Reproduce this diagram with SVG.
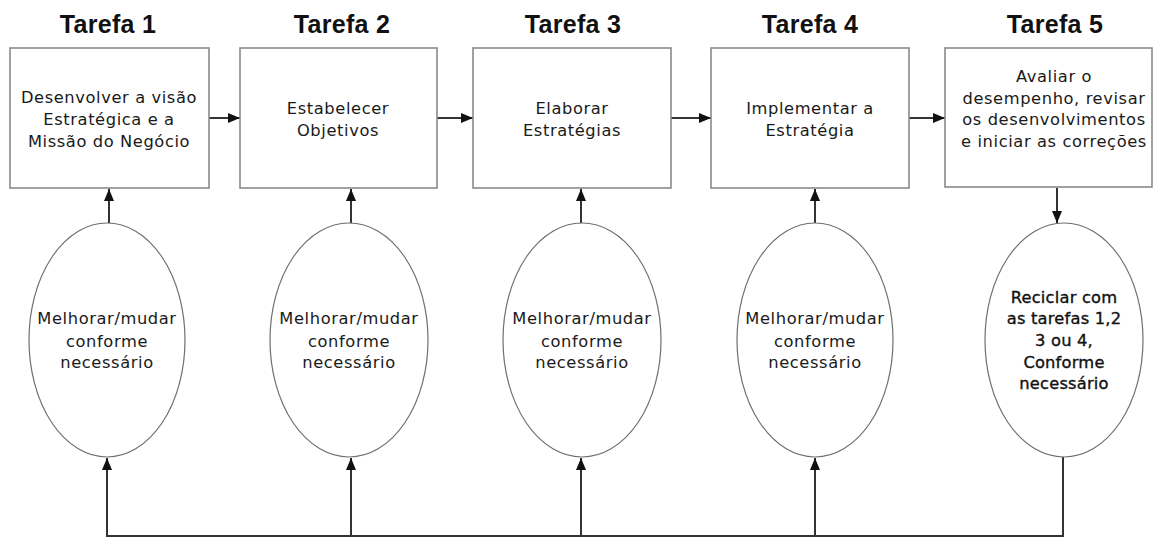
<svg xmlns="http://www.w3.org/2000/svg" width="1162" height="538" viewBox="0 0 1162 538">
<style>
.title{font-family:"Liberation Sans",Arial,sans-serif;font-weight:bold;font-size:25px;fill:#111;text-anchor:middle;letter-spacing:0.3px}
.box{fill:#fff;stroke:#8a8a8a;stroke-width:1.6}
.ell{fill:#fff;stroke:#6f6f6f;stroke-width:1.2}
.t{font-family:"DejaVu Sans",Verdana,sans-serif;font-size:16.3px;fill:#1a1a1a;text-anchor:middle;letter-spacing:0.6px}
.t5{font-family:"DejaVu Sans",Verdana,sans-serif;font-size:16.3px;fill:#111;text-anchor:middle;letter-spacing:0.2px;stroke:#111;stroke-width:0.35}
.c{fill:none;stroke:#333;stroke-width:2}
</style>
<defs>
<marker id="ah" viewBox="0 0 12 10" refX="12" refY="5" markerWidth="12" markerHeight="10" markerUnits="userSpaceOnUse" orient="auto">
<path d="M0,0 L12,5 L0,10 Z" fill="#111"/>
</marker>
</defs>
<rect width="1162" height="538" fill="#fff"/>
<g id="titles">
<text class="title" x="108" y="33">Tarefa 1</text>
<text class="title" x="342" y="33">Tarefa 2</text>
<text class="title" x="573" y="33">Tarefa 3</text>
<text class="title" x="810" y="33">Tarefa 4</text>
<text class="title" x="1055" y="33">Tarefa 5</text>
</g>
<g id="connectors">
<line class="c" x1="209" y1="118" x2="240" y2="118" marker-end="url(#ah)"/>
<line class="c" x1="437" y1="118" x2="473" y2="118" marker-end="url(#ah)"/>
<line class="c" x1="671" y1="118" x2="711" y2="118" marker-end="url(#ah)"/>
<line class="c" x1="909" y1="118" x2="945" y2="118" marker-end="url(#ah)"/>
<line class="c" x1="109" y1="223" x2="109" y2="189" marker-end="url(#ah)"/>
<line class="c" x1="351" y1="223" x2="351" y2="189" marker-end="url(#ah)"/>
<line class="c" x1="581" y1="223" x2="581" y2="189" marker-end="url(#ah)"/>
<line class="c" x1="815" y1="223" x2="815" y2="189" marker-end="url(#ah)"/>
<line class="c" x1="1057" y1="188" x2="1057" y2="223" marker-end="url(#ah)"/>
<polyline class="c" points="1063,457 1063,536 107,536 107,458" marker-end="url(#ah)"/>
<line class="c" x1="351" y1="536" x2="351" y2="458" marker-end="url(#ah)"/>
<line class="c" x1="581" y1="536" x2="581" y2="458" marker-end="url(#ah)"/>
<line class="c" x1="815" y1="536" x2="815" y2="458" marker-end="url(#ah)"/>
</g>
<g id="task1">
<rect class="box" x="10" y="48" width="199" height="140"/>
<text class="t" x="109" y="103" letter-spacing="0.3">Desenvolver a visão</text>
<text class="t" x="109" y="125">Estratégica e a</text>
<text class="t" x="109" y="147" letter-spacing="0.3">Missão do Negócio</text>
</g>
<g id="task2">
<rect class="box" x="240" y="48" width="197" height="140"/>
<text class="t" x="338" y="114">Estabelecer</text>
<text class="t" x="338" y="136">Objetivos</text>
</g>
<g id="task3">
<rect class="box" x="473" y="48" width="198" height="140"/>
<text class="t" x="572" y="114">Elaborar</text>
<text class="t" x="572" y="136">Estratégias</text>
</g>
<g id="task4">
<rect class="box" x="711" y="48" width="198" height="140"/>
<text class="t" x="810" y="114">Implementar a</text>
<text class="t" x="810" y="136">Estratégia</text>
</g>
<g id="task5">
<rect class="box" x="945" y="48" width="207" height="139"/>
<text class="t" x="1054" y="82">Avaliar o</text>
<text class="t" x="1054" y="104" letter-spacing="0.3">desempenho, revisar</text>
<text class="t" x="1054" y="125" letter-spacing="0.3">os desenvolvimentos</text>
<text class="t" x="1054" y="147" letter-spacing="0">e iniciar as correções</text>
</g>
<g id="ellipse1">
<ellipse class="ell" cx="107" cy="340" rx="78" ry="117"/>
<text class="t" x="107" y="324" letter-spacing="0.3">Melhorar/mudar</text>
<text class="t" x="107" y="347">conforme</text>
<text class="t" x="107" y="368">necessário</text>
</g>
<g id="ellipse2">
<ellipse class="ell" cx="349" cy="340" rx="79" ry="117"/>
<text class="t" x="349" y="324" letter-spacing="0.3">Melhorar/mudar</text>
<text class="t" x="349" y="347">conforme</text>
<text class="t" x="349" y="368">necessário</text>
</g>
<g id="ellipse3">
<ellipse class="ell" cx="582" cy="340" rx="79" ry="117"/>
<text class="t" x="582" y="324" letter-spacing="0.3">Melhorar/mudar</text>
<text class="t" x="582" y="347">conforme</text>
<text class="t" x="582" y="368">necessário</text>
</g>
<g id="ellipse4">
<ellipse class="ell" cx="815" cy="340" rx="78" ry="117"/>
<text class="t" x="815" y="324" letter-spacing="0.3">Melhorar/mudar</text>
<text class="t" x="815" y="347">conforme</text>
<text class="t" x="815" y="368">necessário</text>
</g>
<g id="ellipse5">
<ellipse class="ell" cx="1064" cy="340" rx="79" ry="117"/>
<text class="t5" x="1064" y="303">Reciclar com</text>
<text class="t5" x="1064" y="324">as tarefas 1,2</text>
<text class="t5" x="1064" y="346">3 ou 4,</text>
<text class="t5" x="1064" y="368">Conforme</text>
<text class="t5" x="1064" y="389">necessário</text>
</g>
</svg>
